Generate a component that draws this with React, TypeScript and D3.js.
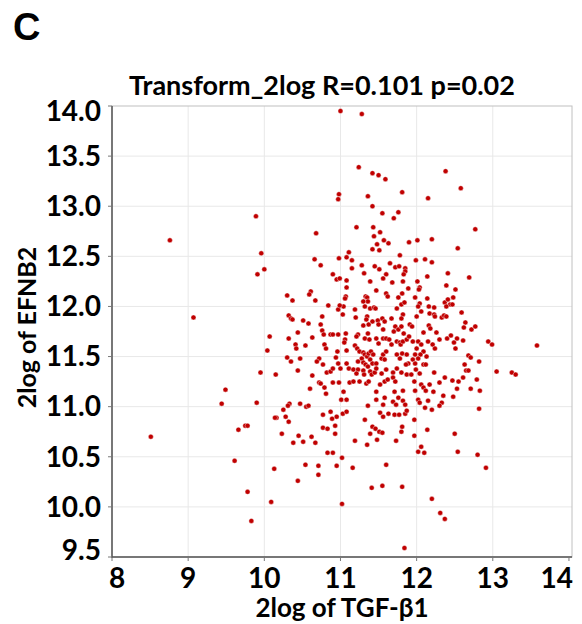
import React from 'react';
import * as d3 from 'd3';

// TGF-β1 (x) vs EFNB2 (y), both 2log
const samples: [number, number][] = [
  [8.76, 12.66], [9.89, 12.90],
  [11.00, 13.95], [11.28, 13.92], [11.24, 13.39], [11.42, 13.33], [11.50, 13.31], [11.59, 13.27], [11.81, 13.14],
  [10.98, 13.12], [10.97, 13.07], [11.36, 13.10], [11.42, 13.00], [11.55, 12.93], [11.76, 12.94], [11.70, 12.88],
  [10.68, 12.73], [11.21, 12.79], [11.43, 12.79], [11.52, 12.74], [11.44, 12.70], [11.57, 12.66], [11.63, 12.63],
  [11.48, 12.62], [11.42, 12.57], [11.51, 12.56], [11.11, 12.54], [9.96, 12.53], [11.78, 12.51], [11.90, 12.64],
  [12.38, 13.35], [12.58, 13.18], [12.15, 13.08], [12.77, 12.77], [12.01, 12.66], [12.20, 12.67], [12.54, 12.58],
  [9.91, 12.32], [9.07, 11.89], [9.49, 11.17], [9.44, 11.03], [9.90, 11.04], [9.95, 11.34],
  [10.00, 12.37], [10.66, 12.47], [10.74, 12.41], [10.98, 12.48], [11.08, 12.49], [11.15, 12.46], [11.28, 12.41],
  [11.31, 12.33], [11.15, 12.38], [11.45, 12.40], [11.51, 12.37], [11.65, 12.43], [11.72, 12.39], [11.77, 12.40],
  [11.85, 12.38], [11.85, 12.35], [11.83, 12.32], [11.60, 12.32], [11.56, 12.28], [11.68, 12.24], [11.82, 12.25],
  [10.90, 12.32], [10.95, 12.27], [10.99, 12.28], [11.08, 12.26], [11.08, 12.19], [11.39, 12.25], [11.47, 12.16],
  [11.60, 12.13], [11.62, 12.10], [11.76, 12.09], [11.81, 12.13], [11.89, 12.18], [10.61, 12.15], [10.59, 12.12],
  [10.67, 12.06], [10.30, 12.11], [10.37, 12.06], [11.07, 12.10], [11.06, 12.08], [11.33, 12.10], [11.35, 12.09],
  [11.36, 12.05], [11.30, 12.05], [11.32, 12.00], [11.39, 11.98], [11.44, 11.99], [11.46, 11.98], [11.19, 11.97],
  [11.04, 12.00], [10.97, 11.97], [10.99, 12.01], [10.84, 12.01], [11.03, 11.92], [11.80, 12.02], [11.84, 12.04],
  [11.74, 11.98], [11.82, 11.92], [11.80, 11.88], [10.32, 11.91], [10.35, 11.88], [10.37, 11.87], [10.51, 11.86],
  [10.58, 11.83], [10.76, 11.90], [10.74, 11.82], [11.20, 11.89], [11.35, 11.90], [11.34, 11.87], [11.30, 11.81],
  [11.37, 11.82], [11.42, 11.85], [11.49, 11.86], [11.55, 11.88], [11.58, 11.85], [11.50, 11.82], [11.56, 11.77],
  [11.67, 11.88], [11.72, 11.80], [11.70, 11.75], [11.76, 11.77], [11.80, 11.80], [11.91, 11.82], [11.83, 11.73],
  [10.07, 11.70], [10.32, 11.68], [10.44, 11.74], [10.41, 11.62], [10.42, 11.58], [10.54, 11.61], [10.63, 11.69],
  [10.76, 11.76], [10.78, 11.72], [10.87, 11.72], [10.90, 11.72], [10.97, 11.72], [11.07, 11.73], [11.06, 11.67],
  [11.05, 11.64], [11.23, 11.72], [11.21, 11.70], [11.36, 11.73], [11.32, 11.68], [11.38, 11.67], [11.47, 11.68],
  [11.50, 11.63], [11.56, 11.68], [11.60, 11.68], [11.64, 11.67], [11.67, 11.62], [11.74, 11.65], [11.78, 11.64],
  [11.79, 11.62], [11.82, 11.65], [11.87, 11.67], [11.90, 11.70], [10.04, 11.56], [10.30, 11.49], [10.35, 11.45],
  [10.47, 11.48], [10.72, 11.48], [10.69, 11.45], [10.79, 11.62], [10.81, 11.58], [10.96, 11.55], [10.94, 11.49],
  [10.97, 11.43], [11.08, 11.56], [11.08, 11.43], [11.19, 11.61], [11.22, 11.58], [11.25, 11.55], [11.30, 11.54],
  [11.28, 11.48], [11.32, 11.52], [11.35, 11.50], [11.37, 11.53], [11.40, 11.55], [11.43, 11.52], [11.39, 11.47],
  [11.23, 11.45], [11.30, 11.44], [11.33, 11.42], [11.36, 11.40], [11.42, 11.43], [11.47, 11.43], [11.54, 11.48],
  [11.56, 11.52], [11.60, 11.55], [11.58, 11.47], [11.74, 11.52], [11.78, 11.48], [11.81, 11.53], [11.87, 11.52],
  [11.89, 11.43], [11.86, 11.42], [10.77, 11.42], [10.82, 11.34], [10.87, 11.35], [10.90, 11.38], [11.00, 11.38],
  [11.11, 11.38], [11.17, 11.37], [11.23, 11.37], [11.21, 11.33], [11.30, 11.36], [11.31, 11.32], [11.39, 11.35],
  [11.41, 11.32], [11.45, 11.34], [11.47, 11.38], [11.54, 11.33], [11.60, 11.37], [11.69, 11.34], [11.74, 11.38],
  [11.80, 11.34], [11.87, 11.32], [10.15, 11.32], [10.44, 11.36], [10.63, 11.31], [10.60, 11.18], [10.72, 11.24],
  [10.74, 11.23], [10.79, 11.19], [10.81, 11.13], [10.90, 11.24], [10.98, 11.24], [11.04, 11.15], [11.01, 11.07],
  [11.08, 11.07], [11.12, 11.24], [11.17, 11.25], [11.25, 11.25], [11.34, 11.23], [11.37, 11.25], [11.47, 11.15],
  [11.52, 11.22], [11.58, 11.25], [11.62, 11.27], [11.69, 11.29], [11.72, 11.25], [11.82, 11.16], [11.71, 11.15],
  [11.76, 11.09], [11.82, 11.06], [11.85, 11.02], [10.33, 11.03], [10.47, 11.03], [11.47, 11.07], [11.58, 11.09],
  [11.69, 11.05],
  [11.99, 12.46], [12.11, 12.47], [12.20, 12.44], [12.14, 12.30], [12.01, 12.25], [12.04, 12.19], [12.03, 12.17],
  [12.41, 12.33], [12.69, 12.29], [12.39, 12.21], [12.51, 12.17], [12.14, 12.08], [11.98, 12.09], [12.04, 12.03],
  [12.02, 12.00], [12.16, 12.00], [12.23, 11.99], [12.37, 12.04], [12.41, 12.07], [12.48, 12.09], [12.44, 12.02],
  [12.47, 12.02], [12.39, 12.00], [12.06, 11.95], [12.17, 11.93], [12.23, 11.92], [12.24, 11.90], [12.00, 11.90],
  [12.33, 11.89], [12.36, 11.91], [12.39, 11.90], [12.59, 11.94], [12.64, 11.84], [12.62, 11.79], [12.72, 11.77],
  [12.77, 11.80], [11.94, 11.80], [12.16, 11.81], [12.18, 11.78], [12.26, 11.74], [12.09, 11.74], [12.30, 11.67],
  [12.40, 11.68], [12.45, 11.71], [12.53, 11.68], [12.49, 11.64], [12.51, 11.58], [12.61, 11.66], [12.94, 11.65],
  [12.99, 11.62], [13.58, 11.61], [12.02, 11.65], [12.15, 11.65], [12.21, 11.62], [12.24, 11.58], [12.06, 11.62],
  [11.95, 11.65], [12.00, 11.58], [12.09, 11.55], [12.05, 11.52], [12.13, 11.50], [11.98, 11.52], [11.95, 11.47],
  [12.02, 11.48], [11.98, 11.43], [12.09, 11.42], [12.12, 11.42], [12.68, 11.51], [12.71, 11.49], [12.82, 11.45],
  [12.63, 11.42], [12.65, 11.36], [12.68, 11.36], [13.05, 11.35], [13.25, 11.34], [13.30, 11.32], [12.23, 11.34],
  [11.99, 11.37], [12.04, 11.33], [11.93, 11.32], [12.61, 11.29], [12.79, 11.27], [12.37, 11.29], [12.47, 11.26],
  [12.55, 11.25], [12.30, 11.24], [12.17, 11.22], [12.06, 11.22], [12.09, 11.19], [12.12, 11.16], [11.97, 11.25],
  [11.98, 11.16], [12.22, 11.15], [12.53, 11.18], [12.71, 11.18], [12.83, 11.16], [12.35, 11.11], [12.48, 11.10],
  [12.33, 11.04], [12.15, 11.06], [12.02, 11.07], [12.04, 11.04],
  [10.25, 10.97], [10.16, 10.89], [10.14, 10.89], [10.28, 10.90], [10.32, 10.85], [10.31, 11.01], [10.55, 11.00],
  [10.58, 11.01], [10.87, 10.95], [10.77, 10.92], [10.89, 10.88], [10.95, 10.90], [11.03, 10.93], [11.08, 10.95],
  [11.36, 11.01], [11.52, 10.94], [11.56, 10.90], [11.63, 10.93], [11.56, 11.02], [11.73, 11.02], [11.71, 10.92],
  [11.77, 10.92], [11.85, 10.93], [11.87, 10.96], [11.32, 10.87], [10.77, 10.79], [10.83, 10.78], [10.93, 10.81],
  [10.93, 10.73], [10.23, 10.73], [10.45, 10.71], [10.38, 10.64], [10.51, 10.65], [10.62, 10.70], [10.67, 10.64],
  [11.19, 10.66], [11.35, 10.62], [11.39, 10.73], [11.42, 10.80], [11.46, 10.78], [11.51, 10.75], [11.55, 10.74],
  [11.48, 10.67], [11.80, 10.75], [11.81, 10.80], [11.73, 10.66], [10.83, 10.54], [10.90, 10.54], [11.02, 10.49],
  [10.54, 10.42], [10.71, 10.41], [10.71, 10.32], [10.95, 10.41], [11.16, 10.39], [11.60, 10.42], [10.13, 10.38],
  [10.44, 10.26], [11.41, 10.19], [11.55, 10.21], [11.81, 10.20], [10.09, 10.05], [11.02, 10.03], [9.83, 9.86],
  [11.84, 9.59],
  [8.51, 10.70], [9.66, 10.77], [9.75, 10.81], [9.78, 10.81], [9.61, 10.46], [9.78, 10.15],
  [12.82, 10.98], [12.11, 10.99], [12.20, 10.97], [12.30, 11.01], [11.97, 10.87], [12.14, 10.77], [11.97, 10.71],
  [12.50, 10.73], [12.06, 10.60], [12.02, 10.55], [12.10, 10.54], [12.54, 10.55], [12.80, 10.52], [12.91, 10.39],
  [12.20, 10.08], [12.31, 9.94], [12.37, 9.88],
];

const xTicks = [8, 9, 10, 11, 12, 13, 14];
const yTicks = [9.5, 10.0, 10.5, 11.0, 11.5, 12.0, 12.5, 13.0, 13.5, 14.0];
const panelLabel = 'C';
const title = 'Transform_2log R=0.101 p=0.02';
const xTitle = '2log of TGF-β1';
const yTitle = '2log of EFNB2';

const W = 582;
const H = 624;
const plot = { left: 112, right: 572, top: 106, bottom: 557 };
const font = 'Lato, "Open Sans", sans-serif';

export default function App() {
  const x = d3.scaleLinear().domain([8, 14.04]).range([plot.left, plot.right]);
  const y = d3.scaleLinear().domain([9.5, 14]).range([plot.bottom, plot.top]);

  return (
    <svg width={W} height={H} style={{ position: 'absolute', left: 0, top: 0, background: '#fff' }}>
      <text x={13} y={40} fontFamily='"Liberation Sans", Arial, sans-serif' fontWeight="bold" fontSize={38}>
        {panelLabel}
      </text>
      <text x={322} y={95} textAnchor="middle" fontFamily={font} fontWeight="bold" fontSize={27}>
        {title}
      </text>

      {/* grid */}
      {xTicks.slice(1, -1).map(t => (
        <line key={'gx' + t} x1={x(t)} x2={x(t)} y1={plot.top} y2={plot.bottom} stroke="#e8e8e8" />
      ))}
      {yTicks.slice(1, -1).map(t => (
        <line key={'gy' + t} x1={plot.left} x2={plot.right} y1={y(t)} y2={y(t)} stroke="#e8e8e8" />
      ))}
      <rect x={plot.left} y={plot.top} width={plot.right - plot.left} height={plot.bottom - plot.top}
        fill="none" stroke="#c0c0c0" />
      <line x1={plot.left} x2={plot.left} y1={plot.top} y2={plot.bottom + 1} stroke="#555" strokeWidth={1.5} />
      <line x1={plot.left} x2={plot.right} y1={plot.bottom} y2={plot.bottom} stroke="#555" strokeWidth={1.5} />

      {/* y axis */}
      {yTicks.map(t => (
        <g key={'ty' + t}>
          <line x1={plot.left - 4} x2={plot.left} y1={y(t)} y2={y(t)} stroke="#777" />
          <text x={101} y={Math.min(Math.max(y(t), 111), 550)} dy="0.35em" textAnchor="end" fontFamily={font}
            fontWeight="bold" fontSize={28}>
            {d3.format('.1f')(t)}
          </text>
        </g>
      ))}
      {/* x axis */}
      {xTicks.map((t, i) => (
        <g key={'tx' + t}>
          <line x1={x(t)} x2={x(t)} y1={plot.bottom} y2={plot.bottom + 4} stroke="#777" />
          <text x={i === 0 ? x(t) - 3 : i === xTicks.length - 1 ? plot.right + 1 : x(t)} y={588}
            textAnchor={i === 0 ? 'start' : i === xTicks.length - 1 ? 'end' : 'middle'}
            fontFamily={font} fontWeight="bold" fontSize={28}>
            {t}
          </text>
        </g>
      ))}

      {samples.map(([a, b], i) => (
        <circle key={i} cx={x(a)} cy={y(b)} r={2.5} fill="#c00000" stroke="#fff" strokeWidth={0.4} />
      ))}

      <text x={342} y={617} textAnchor="middle" fontFamily={font} fontWeight="bold" fontSize={26}>
        {xTitle}
      </text>
      <text transform={`translate(36,${(plot.top + plot.bottom) / 2 - 4}) rotate(-90)`} textAnchor="middle"
        fontFamily={font} fontWeight="bold" fontSize={25}>
        {yTitle}
      </text>
    </svg>
  );
}
